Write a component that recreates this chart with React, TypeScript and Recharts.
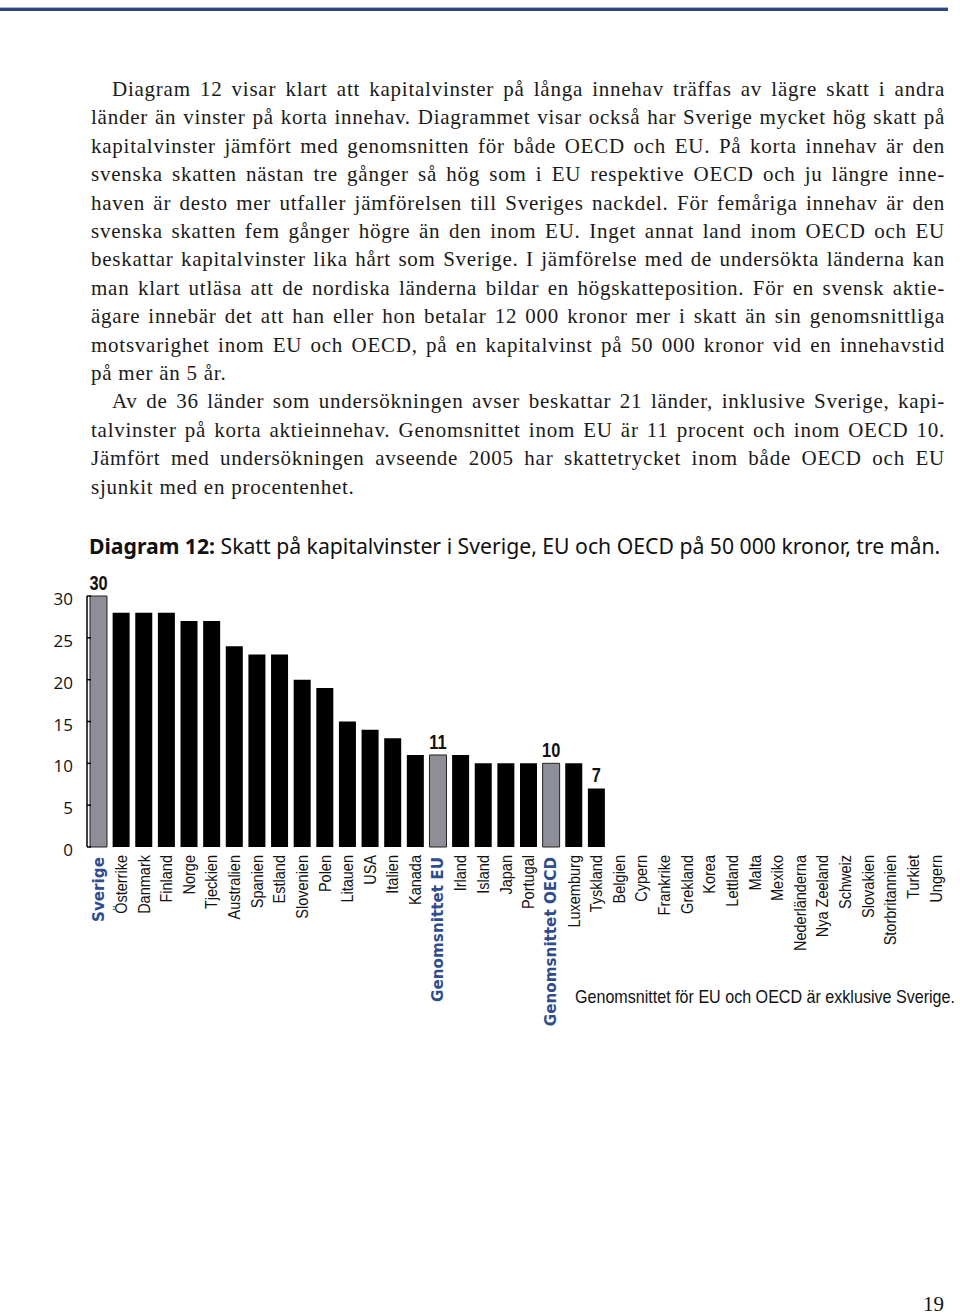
import React from "react";
import { BarChart, Bar, XAxis, YAxis, Cell, LabelList } from "recharts";

const categories = [
  "Sverige", "Österrike", "Danmark", "Finland", "Norge", "Tjeckien", "Australien",
  "Spanien", "Estland", "Slovenien", "Polen", "Litauen", "USA", "Italien", "Kanada",
  "Genomsnittet EU", "Irland", "Island", "Japan", "Portugal", "Genomsnittet OECD",
  "Luxemburg", "Tyskland", "Belgien", "Cypern", "Frankrike", "Grekland", "Korea",
  "Lettland", "Malta", "Mexiko", "Nederländerna", "Nya Zeeland", "Schweiz",
  "Slovakien", "Storbritannien", "Turkiet", "Ungern",
];
const values = [
  30, 28, 28, 28, 27, 27, 24, 23, 23, 20, 19, 15, 14, 13, 11, 11, 11, 10, 10, 10, 10,
  10, 7, 0, 0, 0, 0, 0, 0, 0, 0, 0, 0, 0, 0, 0, 0, 0,
];
const highlighted = ["Sverige", "Genomsnittet EU", "Genomsnittet OECD"];
const labelled = ["Sverige", "Genomsnittet EU", "Genomsnittet OECD", "Tyskland"];
const yTicks = [0, 5, 10, 15, 20, 25, 30];
const boundaryTicks = categories.map((_, i) => i).concat([categories.length]);

const bodyLines: { text: string; indent?: boolean; last?: boolean }[] = [
  { text: "Diagram 12 visar klart att kapitalvinster på långa innehav träffas av lägre skatt i andra", indent: true },
  { text: "länder än vinster på korta innehav. Diagrammet visar också har Sverige mycket hög skatt på" },
  { text: "kapitalvinster jämfört med genomsnitten för både OECD och EU. På korta innehav är den" },
  { text: "svenska skatten nästan tre gånger så hög som i EU respektive OECD och ju längre inne-" },
  { text: "haven är desto mer utfaller jämförelsen till Sveriges nackdel. För femåriga innehav är den" },
  { text: "svenska skatten fem gånger högre än den inom EU. Inget annat land inom OECD och EU" },
  { text: "beskattar kapitalvinster lika hårt som Sverige. I jämförelse med de undersökta länderna kan" },
  { text: "man klart utläsa att de nordiska länderna bildar en högskatteposition. För en svensk aktie-" },
  { text: "ägare innebär det att han eller hon betalar 12 000 kronor mer i skatt än sin genomsnittliga" },
  { text: "motsvarighet inom EU och OECD, på en kapitalvinst på 50 000 kronor vid en innehavstid" },
  { text: "på mer än 5 år.", last: true },
  { text: "Av de 36 länder som undersökningen avser beskattar 21 länder, inklusive Sverige, kapi-", indent: true },
  { text: "talvinster på korta aktieinnehav. Genomsnittet inom EU är 11 procent och inom OECD 10." },
  { text: "Jämfört med undersökningen avseende 2005 har skattetrycket inom både OECD och EU" },
  { text: "sjunkit med en procentenhet.", last: true },
];

const data = categories.map((c, i) => ({ name: c, value: values[i] }));

const BLUE = "#2f4c8c";
const SANS = "'Liberation Sans', Arial, sans-serif";

const XTick = (props: any) => {
  const { x, y, payload } = props;
  const bold = highlighted.includes(payload.value);
  const yy = y + (bold ? 2 : 0);
  return (
    <text
      x={0}
      y={0}
      transform={`translate(${x} ${yy}) rotate(-90) scale(${bold ? 1 : 0.88} 1)`}
      textAnchor="end"
      dy="0.36em"
      fill={bold ? BLUE : "#111"}
      fontFamily={bold ? "'DejaVu Sans', Verdana, sans-serif" : SANS}
      fontWeight={bold ? 700 : 400}
      fontSize={bold ? 15.2 : 16.5}
    >
      {payload.value}
    </text>
  );
};

const ValueLabel = (props: any) => {
  const { x, y, width, value, index } = props;
  if (!labelled.includes(categories[index])) return null;
  return (
    <text
      x={0}
      y={0}
      transform={`translate(${x + width / 2} ${y - 6}) scale(0.82 1)`}
      textAnchor="middle"
      fontFamily={SANS}
      fontWeight={700}
      fontSize={20}
      fill="#111"
    >
      {value}
    </text>
  );
};

export default function App() {
  return (
    <div
      style={{
        position: "absolute",
        left: 0,
        top: 0,
        width: 960,
        height: 1315,
        background: "#fff",
        overflow: "hidden",
      }}
    >
      <div style={{ position: "absolute", left: 0, top: 7, width: 948, height: 1, background: "#9fb5dc" }} />
      <div style={{ position: "absolute", left: 0, top: 8, width: 948, height: 3, background: "#2c4580" }} />

      <div
        style={{
          position: "absolute",
          left: 91,
          top: 75,
          width: 854,
          fontFamily: "'Liberation Serif', 'Times New Roman', serif",
          fontSize: 21,
          letterSpacing: "0.75px",
          lineHeight: "28.4px",
          color: "#1a1a1a",
        }}
      >
        {bodyLines.map((l, i) => (
          <div
            key={i}
            style={{
              textAlign: "justify",
              textAlignLast: l.last ? "left" : "justify",
              paddingLeft: l.indent ? 21 : 0,
              whiteSpace: "nowrap",
            }}
          >
            {l.text}
          </div>
        ))}
      </div>

      <div
        style={{
          position: "absolute",
          left: 89,
          top: 532,
          fontFamily: "'Noto Sans', 'Open Sans', sans-serif",
          fontSize: 21.2,
          lineHeight: "28px",
          color: "#111",
          whiteSpace: "nowrap",
        }}
      >
        <span style={{ fontWeight: 700 }}>Diagram 12:</span> Skatt på kapitalvinster i Sverige, EU och OECD på 50 000 kronor, tre mån.
      </div>

      <div style={{ position: "absolute", left: 0, top: 560 }}>
        <BarChart
          width={960}
          height={480}
          data={data}
          margin={{ top: 36, right: 13, left: 47, bottom: 0 }}
          barSize={17}
        >
          <XAxis
            xAxisId="grid"
            type="number"
            domain={[0, categories.length]}
            allowDataOverflow
            ticks={boundaryTicks}
            interval={0}
            tick={false}
            tickSize={-4}
            height={0}
            axisLine={{ stroke: "#000", strokeWidth: 2 }}
            tickLine={{ stroke: "#000", strokeWidth: 1.5 }}
          />
          <XAxis
            xAxisId="cat"
            dataKey="name"
            type="category"
            interval={0}
            height={193}
            axisLine={false}
            tickLine={false}
            tickSize={0}
            tickMargin={8}
            tick={<XTick />}
          />
          <YAxis
            domain={[0, 30]}
            ticks={yTicks}
            width={40}
            interval={0}
            tickSize={-4}
            tickMargin={18}
            axisLine={{ stroke: "#000", strokeWidth: 1.5 }}
            tickLine={{ stroke: "#000", strokeWidth: 1.5 }}
            tick={{ fontFamily: "'Open Sans', 'Noto Sans', sans-serif", fontSize: 17, fill: "#111", dy: 3 }}
          />
          <Bar dataKey="value" xAxisId="cat" isAnimationActive={false}>
            {data.map((d, i) => (
              <Cell
                key={i}
                fill={highlighted.includes(d.name) ? "#8e8e98" : "#000"}
                stroke={highlighted.includes(d.name) ? "#222" : "none"}
                strokeWidth={1}
              />
            ))}
            <LabelList dataKey="value" content={<ValueLabel />} />
          </Bar>
        </BarChart>
      </div>

      <svg
        width={384}
        height={30}
        style={{ position: "absolute", left: 575, top: 982 }}
      >
        <text
          x={0}
          y={21}
          textLength={380}
          lengthAdjust="spacingAndGlyphs"
          fontFamily={SANS}
          fontSize={19}
          fill="#111"
        >
          Genomsnittet för EU och OECD är exklusive Sverige.
        </text>
      </svg>

      <div
        style={{
          position: "absolute",
          left: 923,
          top: 1292,
          fontFamily: "'Liberation Serif', 'Times New Roman', serif",
          fontSize: 21,
          lineHeight: "24px",
          color: "#111",
        }}
      >
        19
      </div>
    </div>
  );
}
